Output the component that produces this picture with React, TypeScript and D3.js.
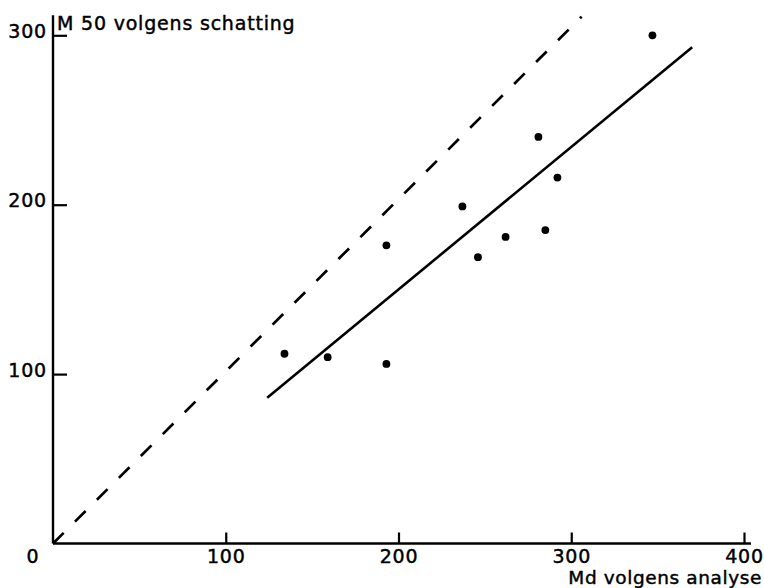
import React, { useEffect, useRef } from "react"
import * as d3 from "d3"

// Md volgens analyse (x) tegen M 50 volgens schatting (y)
const mdAnalyse = [134, 159, 193, 193, 237, 246, 262, 285, 281, 292, 347]
const m50Schatting = [112, 110, 176, 106, 199, 169, 181, 185, 240, 216, 300]

// regressielijn en lijn y = x (gestreept)
const fitLine: [number, number][] = [[124, 86], [370, 293]]
const equalLine: [number, number][] = [[0, 0], [306, 311]]

const xTicks = [0, 100, 200, 300, 400]
const yTicks = [100, 200, 300]

const W = 764
const H = 588
const FONT = "'DejaVu Sans', sans-serif"

export default function App() {
  const ref = useRef<SVGSVGElement>(null)

  useEffect(() => {
    const svg = d3.select(ref.current)
    svg.selectAll("*").remove()

    const x = d3.scaleLinear().domain([0, 400]).range([53, 744])
    const y = d3.scaleLinear().domain([0, 300]).range([543.5, 35.3])

    // assen
    svg.append("line")
      .attr("x1", x(0)).attr("x2", x(404))
      .attr("y1", y(0)).attr("y2", y(0))
      .attr("stroke", "#000").attr("stroke-width", 2.4)
    svg.append("line")
      .attr("x1", x(0)).attr("x2", x(0))
      .attr("y1", y(0)).attr("y2", y(311.8))
      .attr("stroke", "#000").attr("stroke-width", 2.4)

    const gx = svg.append("g")
      .attr("transform", `translate(0,${y(0)})`)
      .call(d3.axisBottom(x).tickValues(xTicks).tickSize(-11).tickPadding(6).tickFormat(d3.format("d")))
    gx.select(".domain").remove()
    gx.selectAll(".tick line").attr("stroke-width", 2.2).filter((d: any) => d === 0).remove()
    gx.selectAll(".tick text").attr("dy", "0.71em")
    gx.selectAll(".tick").filter((d: any) => d === 0).attr("transform", "translate(33,0)")

    const gy = svg.append("g")
      .attr("transform", `translate(${x(0)},0)`)
      .call(d3.axisLeft(y).tickValues(yTicks).tickSize(-14).tickPadding(6).tickFormat(d3.format("d")))
    gy.select(".domain").remove()
    gy.selectAll(".tick line").attr("stroke-width", 2.2)
    gy.selectAll(".tick text").attr("dy", "0.1em")

    svg.selectAll(".tick text")
      .attr("fill", "#000")
      .attr("stroke", "#000").attr("stroke-width", 0.45)
      .attr("font-family", FONT)
      .attr("font-size", 19)
      .attr("letter-spacing", 0.8)

    // astitels
    svg.append("text")
      .attr("x", 57).attr("y", 30)
      .attr("stroke", "#000").attr("stroke-width", 0.45)
      .attr("font-family", FONT).attr("font-size", 19).attr("letter-spacing", 0.8)
      .text("M 50 volgens schatting")
    svg.append("text")
      .attr("x", 762).attr("y", 584)
      .attr("text-anchor", "end")
      .attr("stroke", "#000").attr("stroke-width", 0.45)
      .attr("font-family", FONT).attr("font-size", 18.5).attr("letter-spacing", 0.6)
      .text("Md volgens analyse")

    const line = d3.line<[number, number]>().x(d => x(d[0])).y(d => y(d[1]))

    svg.append("path")
      .attr("d", line(equalLine))
      .attr("fill", "none").attr("stroke", "#000").attr("stroke-width", 2.7)
      .attr("stroke-dasharray", "15,16")

    svg.append("path")
      .attr("d", line(fitLine))
      .attr("fill", "none").attr("stroke", "#000").attr("stroke-width", 2.6)

    svg.selectAll("circle.pt")
      .data(mdAnalyse)
      .join("circle")
      .attr("class", "pt")
      .attr("cx", d => x(d))
      .attr("cy", (_, i) => y(m50Schatting[i]))
      .attr("r", 3.9)
      .attr("fill", "#000")
  }, [])

  return (
    <div style={{ position: "absolute", left: 0, top: 0 }}>
      <svg ref={ref} width={W} height={H} style={{ display: "block", background: "#fff" }} />
    </div>
  )
}
